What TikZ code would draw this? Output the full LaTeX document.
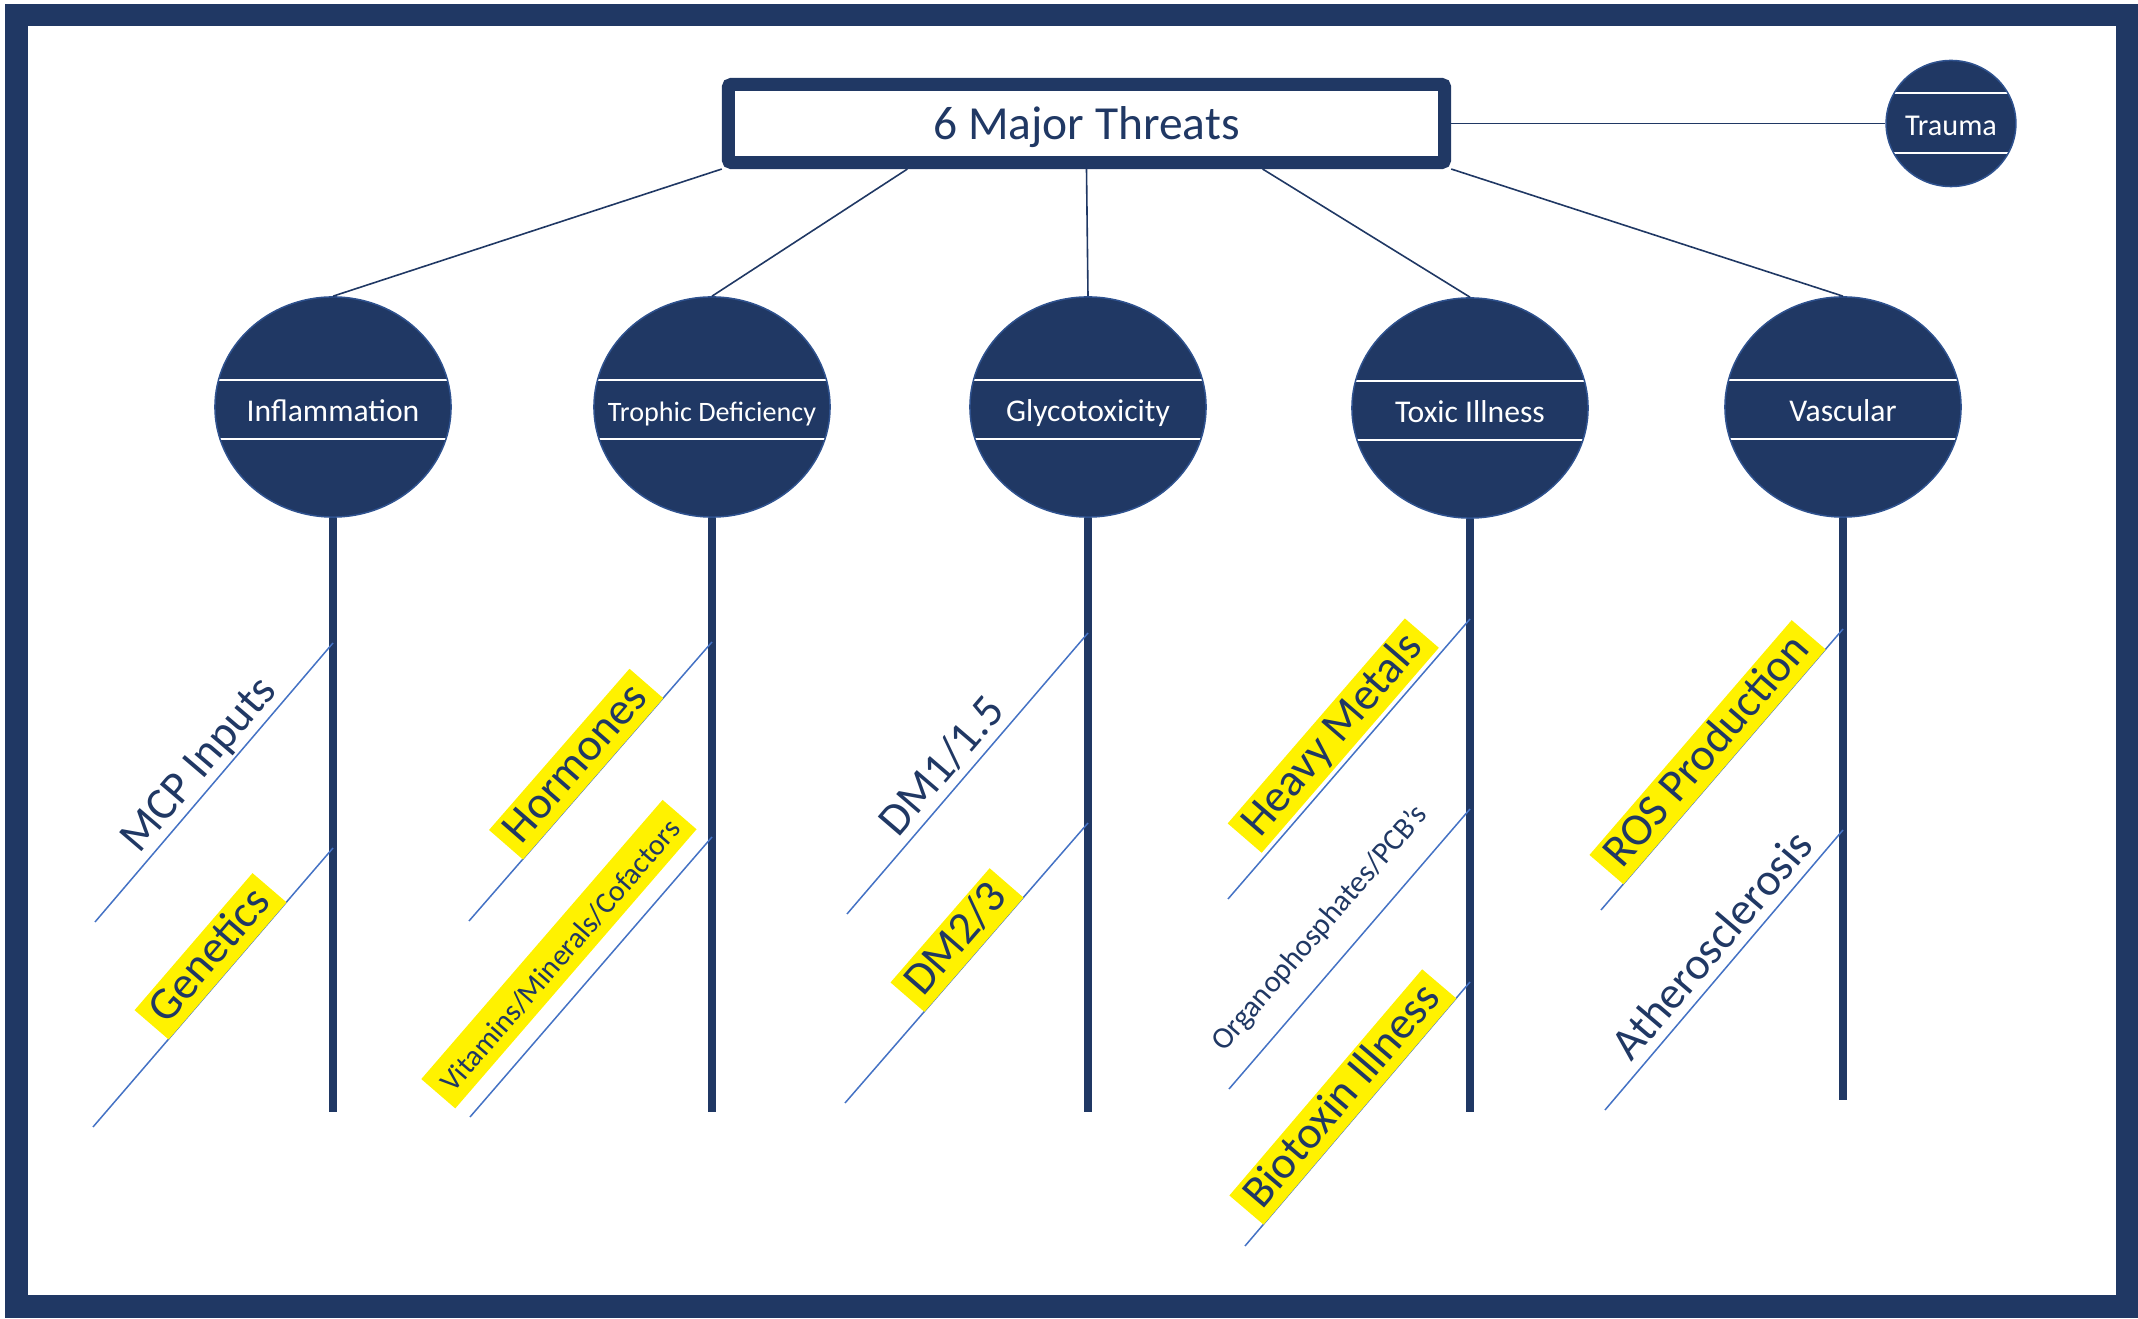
\documentclass[tikz,border=0pt]{standalone}
\usepackage{fontspec}
\setmainfont{Carlito}
\usepackage{pgf, tikz}
\usetikzlibrary{shapes}
\usetikzlibrary{shapes.geometric}

\definecolor{navy}{RGB}{32,56,100}
\definecolor{rimblue}{RGB}{47,82,143}
\definecolor{twigblue}{RGB}{68,114,196}

\tikzset{
  bands/.style 2 args={path picture={
      \draw[white, line width=0.02cm]
        ([yshift=#1]path picture bounding box.west) -- ([yshift=#1]path picture bounding box.east)
        ([yshift=#2]path picture bounding box.west) -- ([yshift=#2]path picture bounding box.east);}},
  threat/.style={ellipse, fill=navy, draw=rimblue, line width=0.015cm, inner sep=0pt,
    minimum width=2.36cm, minimum height=2.2cm, text=white, text height=0.82em, text depth=0pt,
    font=\fontsize{9}{11}\selectfont, bands={0.27cm}{-0.32cm}},
  spoke/.style={draw=navy, line width=0.016cm},
  stem/.style={draw=navy, line width=0.08cm},
  twig/.style={draw=twigblue, line width=0.015cm},
  tag/.style={sloped, above=-0.01cm, text=navy, inner xsep=0.1cm, inner ysep=0.01cm,
    text height=0.95em, text depth=0.27em, font=\fontsize{13}{15.5}\selectfont},
  smalltag/.style={above=0.17cm, font=\fontsize{8.5}{10.5}\selectfont},
  hilite/.style={fill=yellow}
}

\begin{document}
\begin{tikzpicture}[x=0.01cm, y=-0.01cm]
\useasboundingbox (0,0) rectangle (2138,1319);
\draw[navy, line width=0.22cm] (16.5,15) rectangle (2127,1306.5);

\node[draw=navy, line width=0.13cm, rounded corners=0.03cm,
   minimum width=7.16cm, minimum height=0.78cm, text depth=0pt,
   text=navy, font=\fontsize{13.5}{16}\selectfont] (threats) at (1086.5,123.5)
  {6 Major Threats};
\node[threat, minimum width=1.26cm, minimum height=1.26cm, text height=0.7em,
   font=\fontsize{8.6}{10}\selectfont, bands={0.3cm}{-0.29cm}] (trauma) at (1951,123.5)
  {Trauma};

\node[threat] (infl) at (333,407) {\makebox[0pt]{Inflammation}};
\node[threat, font=\fontsize{8}{10}\selectfont] (trop) at (712,407) {\makebox[0pt]{Trophic Deficiency}};
\node[threat] (glyco) at (1088,407) {\makebox[0pt]{Glycotoxicity}};
\node[threat] (toxic) at (1470,408) {\makebox[0pt]{Toxic Illness}};
\node[threat] (vasc) at (1843,407) {\makebox[0pt]{Vascular}};

\draw[spoke] (threats.east) -- (trauma.west);
\draw[spoke] (threats.south west) -- (infl.north);
\draw[spoke] ([xshift=-1.79cm]threats.south) -- (trop.north);
\draw[spoke] (threats.south) -- (glyco.north);
\draw[spoke] ([xshift=1.76cm]threats.south) -- (toxic.north);
\draw[spoke] (threats.south east) -- (vasc.north);

\coordinate (inflFoot) at (333,1112);
\coordinate (tropFoot) at (712,1112);
\coordinate (glycoFoot) at (1088,1112);
\coordinate (toxicFoot) at (1470,1112);
\coordinate (vascFoot) at (1843,1100);
\draw[stem] (infl.south) -- (inflFoot);
\draw[stem] (trop.south) -- (tropFoot);
\draw[stem] (glyco.south) -- (glycoFoot);
\draw[stem] (toxic.south) -- (toxicFoot);
\draw[stem] (vasc.south) -- (vascFoot);

\coordinate (mcpLo) at (95,922);
\coordinate (mcpHi) at (333,643);
\coordinate (geneLo) at (93,1127);
\coordinate (geneHi) at (333,848);
\coordinate (hormLo) at (469,921);
\coordinate (hormHi) at (712,642);
\coordinate (vitLo) at (470,1117);
\coordinate (vitHi) at (712,837);
\coordinate (dmaLo) at (847,914);
\coordinate (dmaHi) at (1088,633);
\coordinate (dmbLo) at (845,1103);
\coordinate (dmbHi) at (1088,823);
\coordinate (metLo) at (1228,899);
\coordinate (metHi) at (1470,619);
\coordinate (orgLo) at (1229,1089);
\coordinate (orgHi) at (1470,809);
\coordinate (bioLo) at (1245,1246);
\coordinate (bioHi) at (1470,982);
\coordinate (rosLo) at (1601,910);
\coordinate (rosHi) at (1843,629);
\coordinate (athLo) at (1605,1110);
\coordinate (athHi) at (1843,830);

\draw[twig] (mcpLo) -- (mcpHi) node[pos=.51, tag] (mcp) {MCP Inputs};
\draw[twig] (geneLo) -- (geneHi) node[pos=.56, tag, hilite] (gene) {Genetics};
\draw[twig] (hormLo) -- (hormHi) node[pos=.51, tag, hilite] (horm) {Hormones};
\draw[twig] (vitLo) -- (vitHi) node[pos=.49, tag, smalltag, hilite] (vit) {Vitamins/Minerals/Cofactors};
\draw[twig] (dmaLo) -- (dmaHi) node[pos=.47, tag] (dma) {DM1/1.5};
\draw[twig] (dmbLo) -- (dmbHi) node[pos=.53, tag, hilite] (dmb) {DM2/3};
\draw[twig] (metLo) -- (metHi) node[pos=.52, tag, hilite, above=0.05cm] (met) {Heavy Metals};
\draw[twig] (orgLo) -- (orgHi) node[pos=.49, tag, smalltag, font=\fontsize{8.7}{10.5}\selectfont] (org) {Organophosphates/PCB’s};
\draw[twig] (bioLo) -- (bioHi) node[pos=.51, tag, hilite] (bio) {Biotoxin Illness};
\draw[twig] (rosLo) -- (rosHi) node[pos=.51, tag, hilite] (ros) {ROS Production};
\draw[twig] (athLo) -- (athHi) node[pos=.53, tag] (ath) {Atherosclerosis};
\end{tikzpicture}
\end{document}
